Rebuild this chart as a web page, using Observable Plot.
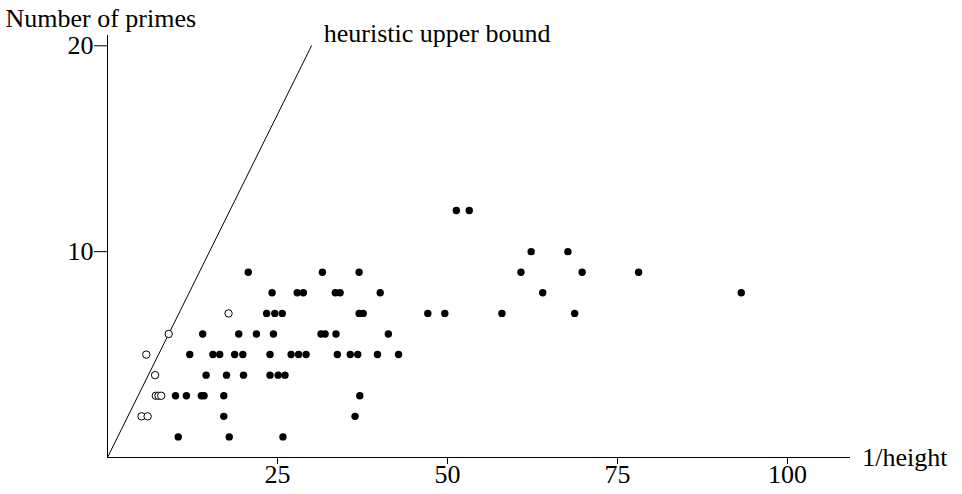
<!DOCTYPE html>
<html>
<head>
<meta charset="utf-8">
<script src="https://cdn.jsdelivr.net/npm/d3@7"></script>
<script src="https://cdn.jsdelivr.net/npm/@observablehq/plot@0.6"></script>
<style>
  html, body { margin: 0; padding: 0; background: #fff; }
</style>
</head>
<body>
<div id="chart"></div>
<script>
// Filled points: 1/height and number of primes
const filledX = [10.4, 17.9, 25.8,
  17.1, 36.4,
  10.0, 11.6, 13.8, 14.2, 17.1, 37.1,
  14.5, 17.5, 20.0, 23.9, 25.1, 26.1,
  12.1, 15.5, 16.5, 18.7, 19.9, 23.9, 27.0, 28.1, 29.2, 33.8, 35.7, 36.8, 39.7, 42.8,
  14.0, 19.3, 21.9, 24.4, 31.4, 32.0, 33.6, 41.3,
  23.4, 24.6, 25.7, 37.0, 37.6, 47.1, 49.6, 58.0, 68.7,
  24.2, 27.9, 28.8, 33.5, 34.2, 40.1, 64.0, 93.2,
  20.7, 31.6, 37.0, 60.8, 69.8, 78.1,
  62.3, 67.7,
  51.3, 53.2];
const filledY = [1, 1, 1,
  2, 2,
  3, 3, 3, 3, 3, 3,
  4, 4, 4, 4, 4, 4,
  5, 5, 5, 5, 5, 5, 5, 5, 5, 5, 5, 5, 5, 5,
  6, 6, 6, 6, 6, 6, 6, 6,
  7, 7, 7, 7, 7, 7, 7, 7, 7,
  8, 8, 8, 8, 8, 8, 8, 8,
  9, 9, 9, 9, 9, 9,
  10, 10,
  12, 12];
// Open points
const openX = [5.0, 5.9, 7.1, 7.5, 7.9, 7.0, 5.7, 9.0, 17.8];
const openY = [2, 2, 3, 3, 3, 4, 5, 6, 7];
// Heuristic upper bound line
const boundX = [0, 30];
const boundY = [0, 20];
const xTicks = [25, 50, 75, 100];
const yTicks = [10, 20];
const xLabel = "1/height";
const yLabel = "Number of primes";
const boundLabel = "heuristic upper bound";

const filled = filledX.map((x, i) => ({x, y: filledY[i]}));
const open = openX.map((x, i) => ({x, y: openY[i]}));
const bound = boundX.map((x, i) => ({x, y: boundY[i]}));

const FS = 26;
const chart = Plot.plot({
  width: 962,
  height: 494,
  marginLeft: 107,
  marginRight: 112,
  marginTop: 35,
  marginBottom: 37,
  style: {fontFamily: "'Liberation Serif', 'Times New Roman', serif", fontSize: FS + "px", background: "#fff", color: "#000"},
  x: {domain: [0, 109.26]},
  y: {domain: [0, 20.5]},
  marks: [
    Plot.ruleX([0], {stroke: "#000", strokeWidth: 1}),
    Plot.ruleY([0], {stroke: "#000", strokeWidth: 1}),
    Plot.axisX({ticks: xTicks, tickSize: 7, tickPadding: 0, label: null, fontSize: FS, stroke: "#000"}),
    Plot.axisY({ticks: yTicks, tickSize: 13, tickPadding: 1, label: null, fontSize: FS, stroke: "#000"}),
    Plot.line(bound, {x: "x", y: "y", stroke: "#000", strokeWidth: 1}),
    Plot.dot(filled, {x: "x", y: "y", r: 3.7, fill: "#000", stroke: "none"}),
    Plot.dot(open, {x: "x", y: "y", r: 3.7, fill: "#fff", stroke: "#000", strokeWidth: 1}),
    Plot.text([boundLabel], {x: 31.8, y: 20.2, text: d => d, textAnchor: "start", lineAnchor: "bottom", fontSize: FS, fill: "#000"}),
    Plot.text([xLabel], {x: 111.0, y: 0, text: d => d, textAnchor: "start", lineAnchor: "middle", fontSize: FS, fill: "#000"}),
    Plot.text([yLabel], {x: -15, y: 20.84, dy: -2, text: d => d, textAnchor: "start", lineAnchor: "bottom", fontSize: FS, fill: "#000"})
  ]
});
document.getElementById("chart").appendChild(chart);
</script>
</body>
</html>
